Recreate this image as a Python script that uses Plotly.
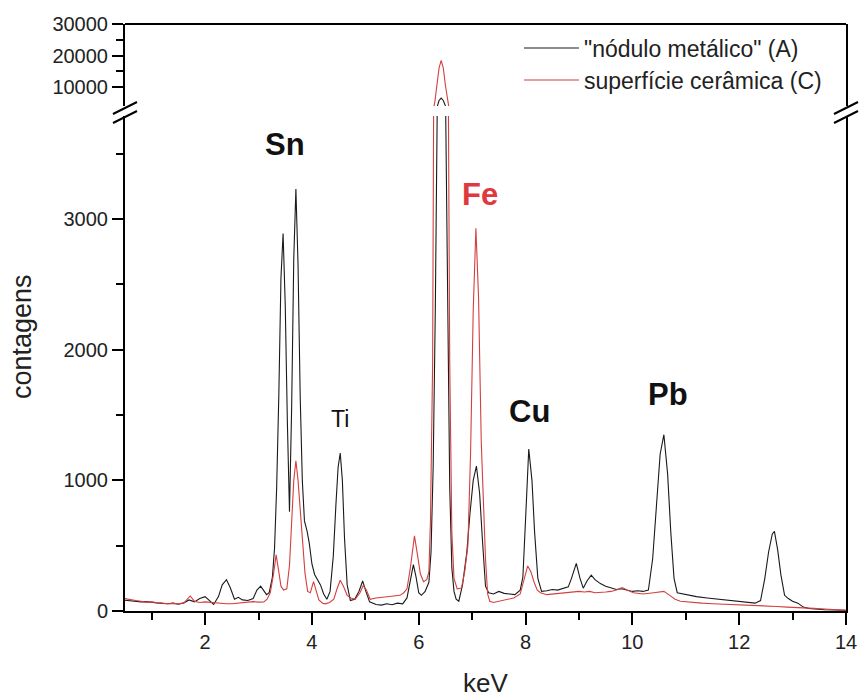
import plotly.graph_objects as go

# ---------------- data ----------------
series_names = ['"nódulo metálico" (A)', 'superfície cerâmica (C)']

black_kev = [0.50, 0.60, 0.70, 0.80, 0.90, 1.00, 1.10, 1.20, 1.30, 1.40, 1.50, 1.60, 1.70, 1.80, 1.90,
             2.00, 2.10, 2.16, 2.25, 2.32, 2.40, 2.47, 2.55, 2.62, 2.70, 2.80, 2.90, 2.97, 3.04, 3.10,
             3.15, 3.20, 3.26, 3.30, 3.34, 3.38, 3.42, 3.46, 3.50, 3.54, 3.58, 3.62, 3.66, 3.70, 3.74,
             3.78, 3.82, 3.86, 3.91, 3.95, 4.00, 4.05, 4.10, 4.16, 4.22, 4.28, 4.34, 4.40, 4.45, 4.49,
             4.53, 4.57, 4.61, 4.66, 4.72, 4.80, 4.88, 4.95, 5.01, 5.08, 5.20, 5.30, 5.40, 5.50, 5.60,
             5.70, 5.78, 5.84, 5.90, 5.95, 6.00, 6.05, 6.12, 6.19, 6.23, 6.27, 6.31, 6.35, 6.38, 6.42,
             6.46, 6.50, 6.54, 6.58, 6.62, 6.66, 6.70, 6.75, 6.82, 6.90, 6.96, 7.02, 7.08, 7.14, 7.19,
             7.25, 7.31, 7.40, 7.50, 7.60, 7.70, 7.80, 7.90, 7.95, 8.00, 8.06, 8.12, 8.17, 8.23, 8.30,
             8.40, 8.50, 8.60, 8.70, 8.80, 8.86, 8.95, 9.02, 9.08, 9.15, 9.23, 9.30, 9.40, 9.50, 9.60,
             9.70, 9.80, 9.90, 10.00, 10.10, 10.20, 10.30, 10.38, 10.45, 10.52, 10.59, 10.66, 10.72,
             10.78, 10.84, 10.90, 11.00, 11.20, 11.40, 11.60, 11.80, 12.00, 12.20, 12.30, 12.40, 12.48,
             12.55, 12.62, 12.66, 12.72, 12.78, 12.85, 12.92, 13.00, 13.10, 13.20, 13.30, 13.40, 13.60,
             13.80, 14.00]
black_counts = [82, 78, 75, 70, 72, 65, 62, 58, 55, 60, 52, 62, 85, 70, 95,
                110, 75, 50, 110, 200, 240, 180, 90, 105, 85, 80, 95, 160, 190, 155,
                125, 140, 260, 480, 950, 1650, 2550, 2890, 2350, 1450, 760, 1550, 2700, 3230, 2650,
                1650, 1000, 690, 610, 520, 360, 280, 240, 200, 130, 90, 150, 420, 820, 1100,
                1210, 1000, 560, 200, 80, 90, 150, 230, 150, 70, 50, 45, 55, 48, 60,
                55, 100, 230, 355, 260, 140, 120, 150, 220, 450, 1100, 2300, 4000, 5750, 6500,
                5750, 4000, 2200, 950, 330, 150, 90, 75, 200, 450, 750, 1000, 1110, 900, 560,
                190, 140, 130, 150, 135, 130, 125, 160, 260, 700, 1240, 1000, 600, 250, 150,
                155, 165, 160, 170, 185, 250, 365, 250, 175, 230, 275, 240, 210, 190, 175,
                165, 170, 160, 150, 155, 150, 160, 400, 800, 1200, 1350, 1050, 600,
                250, 140, 135, 125, 110, 100, 90, 80, 75, 65, 60, 80, 250,
                450, 590, 610, 470, 280, 120, 95, 75, 60, 30, 20, 15, 10,
                8, 5]

red_kev = [0.50, 0.60, 0.70, 0.80, 0.90, 1.00, 1.10, 1.20, 1.30, 1.40, 1.50, 1.60, 1.66, 1.72, 1.80,
           1.90, 2.00, 2.10, 2.20, 2.30, 2.40, 2.50, 2.60, 2.70, 2.80, 2.90, 3.00, 3.10, 3.16, 3.22,
           3.28, 3.33, 3.38, 3.42, 3.47, 3.53, 3.58, 3.62, 3.66, 3.70, 3.74, 3.78, 3.83, 3.87, 3.92,
           3.97, 4.03, 4.08, 4.13, 4.20, 4.25, 4.33, 4.41, 4.47, 4.53, 4.59, 4.66, 4.73, 4.81, 4.90,
           4.96, 5.02, 5.09, 5.20, 5.34, 5.45, 5.55, 5.65, 5.72, 5.78, 5.84, 5.92, 5.98, 6.03, 6.09,
           6.15, 6.19, 6.22, 6.26, 6.30, 6.34, 6.38, 6.42, 6.46, 6.50, 6.54, 6.58, 6.62, 6.66, 6.72,
           6.80, 6.86, 6.92, 6.97, 7.02, 7.07, 7.12, 7.17, 7.21, 7.25, 7.29, 7.33, 7.40, 7.53, 7.65,
           7.78, 7.90, 7.97, 8.04, 8.10, 8.16, 8.22, 8.28, 8.40, 8.50, 8.60, 8.70, 8.80, 8.90, 9.00,
           9.10, 9.20, 9.30, 9.40, 9.50, 9.60, 9.70, 9.81, 9.90, 10.02, 10.20, 10.40, 10.59, 10.70,
           10.80, 10.90, 11.10, 11.30, 11.50, 11.70, 11.90, 12.10, 12.30, 12.50, 12.70, 12.90, 13.10,
           13.20, 13.40, 13.60, 13.80, 14.00]
red_counts = [95, 85, 80, 75, 68, 70, 62, 60, 55, 58, 55, 60, 90, 115, 75,
              65, 70, 65, 62, 58, 55, 55, 60, 65, 70, 72, 68, 70, 90, 140,
              280, 430, 300, 190, 160, 170, 350, 680, 1000, 1150, 1000, 780, 480, 290, 150,
              140, 225, 150, 85, 60, 55, 65, 90, 170, 235, 190, 120, 100, 90, 140,
              195, 160, 90, 100, 105, 110, 115, 120, 140, 170, 320, 575, 420, 285, 225,
              240, 300, 700, 1900, 5100, 10500, 16000, 18500, 16000, 10500, 5100, 1900, 600, 250, 170,
              175, 300, 500, 1200, 2300, 2930, 2400, 1300, 800, 400, 130, 75, 65, 75, 85,
              100, 130, 230, 345, 300, 220, 160, 140, 125, 130, 135, 140, 145, 145, 150,
              145, 150, 140, 140, 145, 150, 160, 180, 160, 140, 130, 140, 150, 120,
              90, 75, 65, 60, 55, 52, 50, 45, 45, 40, 35, 30, 28,
              25, 20, 15, 10, 5]

element_labels = ["Sn", "Ti", "Fe", "Cu", "Pb"]
element_kev = [3.50, 4.53, 7.15, 8.07, 10.66]
element_counts = [3574, 1471, 3190, 1525, 1656]

x_ticks = [2, 4, 6, 8, 10, 12, 14]
x_minor = [1, 3, 5, 7, 9, 11, 13]
y_low_ticks = [0, 1000, 2000, 3000]
y_low_minor = [500, 1500, 2500, 3500]
y_high_ticks = [10000, 20000, 30000]
y_high_minor = [15000, 25000]

# ---------------- styling ----------------
BLACK = "#1a1a1a"
RED = "#d43f3f"
RED_TEXT = "#e0393d"
FONT = "Arial, Liberation Sans, sans-serif"

# the page body margin is removed (post_script), so the figure fills the window
W, H = 861, 698
PLOT_L, PLOT_R, PLOT_T, PLOT_B = 125, 846, 24, 611   # plot area in window pixels
ML, MT = PLOT_L, PLOT_T
MR, MB = W - PLOT_R, H - PLOT_B
PW, PH = PLOT_R - PLOT_L, PLOT_B - PLOT_T


def py2paper(py):
    return (PLOT_B - py) / PH


def px2paper(px):
    return (px - PLOT_L) / PW


fig = go.Figure()

for yax in ["y", "y2"]:
    fig.add_trace(go.Scatter(x=black_kev, y=black_counts, mode="lines", yaxis=yax,
                             name=series_names[0], line=dict(color=BLACK, width=1.1),
                             showlegend=(yax == "y2"), legend="legend"))
    fig.add_trace(go.Scatter(x=red_kev, y=red_counts, mode="lines", yaxis=yax,
                             name=series_names[1], line=dict(color=RED, width=1.1),
                             showlegend=(yax == "y2"), legend="legend2"))

axis_common = dict(showline=True, linecolor="black", linewidth=2, ticks="outside",
                   tickcolor="black", tickwidth=2, showgrid=False, zeroline=False,
                   tickformat="d", ticklabeloverflow="allow",
                   tickfont=dict(family=FONT, size=20, color="#222"))

fig.update_layout(
    width=W, height=H,
    margin=dict(l=ML, r=MR, t=MT, b=MB, autoexpand=False),
    paper_bgcolor="white", plot_bgcolor="white",
    font=dict(family=FONT, color="#222"),
    xaxis=dict(range=[0.5, 14], tickvals=x_ticks, ticklen=12,
               minor=dict(tickvals=x_minor, ticklen=7, tickwidth=2, tickcolor="black", ticks="outside"),
               title=dict(text="keV", font=dict(family=FONT, size=26, color="#222"), standoff=22),
               anchor="y", **axis_common),
    yaxis=dict(domain=[0, py2paper(116)], range=[0, 3790], tickvals=y_low_ticks, ticklen=11,
               minor=dict(tickvals=y_low_minor, ticklen=7, tickwidth=2, tickcolor="black", ticks="outside"),
               mirror=True, anchor="x", **axis_common),
    yaxis2=dict(domain=[py2paper(106), 1], range=[4000, 30000], tickvals=y_high_ticks, ticklen=11,
                minor=dict(tickvals=y_high_minor, ticklen=7, tickwidth=2, tickcolor="black", ticks="outside"),
                mirror=True, anchor="x", **axis_common),
    legend=dict(x=px2paper(519), y=py2paper(48), xanchor="left", yanchor="middle",
                bgcolor="rgba(0,0,0,0)", itemwidth=55,
                font=dict(family=FONT, size=23, color="#222")),
    legend2=dict(x=px2paper(519), y=py2paper(80), xanchor="left", yanchor="middle",
                 bgcolor="rgba(0,0,0,0)", itemwidth=55,
                 font=dict(family=FONT, size=23, color="#222")),
)

# top frame line of the upper panel
fig.add_shape(type="line", xref="paper", yref="paper", x0=0, x1=1, y0=1, y1=1,
              line=dict(color="black", width=2))

# axis-break marks (double slashes) on both vertical axes
for cx in [PLOT_L, PLOT_R]:
    for (ya, yb) in [(114, 102), (123, 111)]:
        fig.add_shape(type="line", xref="paper", yref="paper",
                      x0=px2paper(cx - 12), x1=px2paper(cx + 12),
                      y0=py2paper(ya), y1=py2paper(yb),
                      line=dict(color="black", width=2))

# element labels
for lab, xk, yc in zip(element_labels, element_kev, element_counts):
    is_fe = lab == "Fe"
    is_ti = lab == "Ti"
    fig.add_annotation(x=xk, y=yc, xref="x", yref="y", text=lab if is_ti else f"<b>{lab}</b>",
                       showarrow=False, xanchor="center", yanchor="middle",
                       font=dict(family=FONT, size=23 if is_ti else 31,
                                 color=RED_TEXT if is_fe else "#111"))

# y-axis title
fig.add_annotation(x=px2paper(22), y=py2paper(337), xref="paper", yref="paper",
                   text="contagens", textangle=-90, showarrow=False,
                   xanchor="center", yanchor="middle",
                   font=dict(family=FONT, size=27, color="#222"))

fig.write_html("out.html",
               config={"displayModeBar": False},
               post_script="document.body.style.margin='0px';document.body.style.overflow='hidden';")
